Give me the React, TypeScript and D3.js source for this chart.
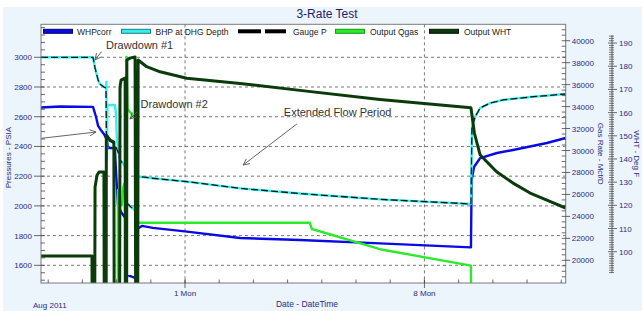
import React from "react";
import * as d3 from "d3";

// time axis in days from Mon 1 Aug 2011 00:00
const dayDomain: [number, number] = [-4.21, 11.13];
const psiDomain: [number, number] = [1481, 3222];
const gasDomain: [number, number] = [17933, 41494];
const whtDomain: [number, number] = [86.5, 198.1];

const psiTicks = [1600, 1800, 2000, 2200, 2400, 2600, 2800, 3000];
const gasTicks = [20000, 22000, 24000, 26000, 28000, 30000, 32000, 34000, 36000, 38000, 40000];
const whtTicks = [100, 110, 120, 130, 140, 150, 160, 170, 180, 190];
const dateTicks = [0, 7];
const dateLabels = ["1 Mon", "8 Mon"];

type Pt = [number, number];

const whpcorr: Pt[] = [
  [-4.21, 2662], [-3.65, 2669], [-2.69, 2666], [-2.6, 2598], [-2.54, 2538], [-2.46, 2511],
  [-2.37, 2484], [-2.28, 2443], [-2.25, 2390], [-2.05, 2390], [-2.02, 2242], [-1.96, 2007],
  [-1.87, 1959], [-1.75, 1919], [-1.71, 1905], [-1.7, 1535], [-1.46, 1515], [-1.42, 1515],
  [-1.4, 1845], [-1.26, 1865], [-0.94, 1852], [0.06, 1827], [1.61, 1784], [3.36, 1770],
  [5.7, 1748], [8.36, 1721], [8.38, 2174], [8.45, 2262], [8.63, 2322], [9.12, 2356],
  [9.59, 2376], [10.58, 2423], [11.13, 2457],
];

const bhp: Pt[] = [
  [-4.21, 3000], [-2.69, 3000], [-2.63, 2928], [-2.54, 2847], [-2.49, 2820], [-2.37, 2800],
  [-2.31, 2793], [-2.3, 2834], [-2.28, 2309], [-2.27, 2679], [-2.05, 2679], [-2.02, 2625],
  [-1.99, 2443], [-1.9, 2309], [-1.75, 2268], [-1.71, 2268], [-1.7, 2019], [-1.58, 1992],
  [-1.43, 1966], [-1.41, 2186], [-1.32, 2197], [-0.94, 2186], [0.06, 2163], [1.61, 2118],
  [3.36, 2083], [5.7, 2044], [8.36, 2013], [8.39, 2531], [8.48, 2598], [8.63, 2659],
  [8.92, 2692], [9.3, 2713], [10.09, 2733], [11.13, 2753],
];

const gaugeP: Pt[] = [
  [-4.21, 3000], [-2.69, 3000], [-2.63, 2928], [-2.54, 2847], [-2.49, 2820], [-2.37, 2800],
  [-2.31, 2793], [-2.3, 2477], [-2.25, 2443], [-2.11, 2423], [-2.02, 2396], [-1.96, 2363],
  [-1.9, 2309], [-1.78, 2275], [-1.71, 2268], [-1.7, 2019], [-1.58, 1992], [-1.43, 1966],
  [-1.41, 2186], [-1.32, 2197], [-0.94, 2186], [0.06, 2163], [1.61, 2118], [3.36, 2083],
  [5.7, 2044], [8.36, 2013], [8.39, 2531], [8.48, 2598], [8.63, 2659], [8.92, 2692],
  [9.3, 2713], [10.09, 2733], [11.13, 2753],
];

const qgas: Pt[] = [
  [-4.21, 0], [-1.97, 0], [-1.96, 26400], [-1.93, 25670], [-1.87, 25030], [-1.84, 25030],
  [-1.81, 26580], [-1.78, 26950], [-1.73, 27040], [-1.71, 38520], [-1.68, 33780],
  [-1.61, 33510], [-1.49, 33050], [-1.45, 33050], [-1.4, 23420], [3.65, 23420],
  [3.71, 22850], [5.7, 21010], [8.36, 19510], [8.38, 0], [11.13, 0],
];

const wht: Pt[] = [
  [-4.21, 98.2], [-2.72, 98.2], [-2.69, 0], [-2.65, 0], [-2.63, 127.9], [-2.57, 133.1],
  [-2.51, 134.4], [-2.37, 134.4], [-2.35, 0], [-2.31, 0], [-2.3, 150.3], [-2.19, 148.2],
  [-2.08, 147.3], [-2.06, 0], [-1.92, 0], [-1.9, 171.0], [-1.87, 174.0], [-1.75, 174.9],
  [-1.74, 0], [-1.71, 0], [-1.7, 182.7], [-1.61, 183.5], [-1.46, 184.0], [-1.43, 0],
  [-1.39, 0], [-1.37, 182.7], [-1.12, 179.8], [-0.73, 177.6], [0.05, 174.8], [1.61, 172.6],
  [3.36, 169.6], [5.7, 165.7], [8.36, 162.1], [8.46, 151.2], [8.63, 141.7], [9.11, 134.5],
  [9.59, 129.6], [10.09, 125.3], [10.58, 122.3], [11.13, 118.8],
];

const notes = [
  { text: "Drawdown #1", day: -2.31, psi: 3056 },
  { text: "Drawdown #2", day: -1.3, psi: 2659 },
  { text: "Extended Flow Period", day: 2.89, psi: 2605 },
];
const arrows: [Pt, Pt][] = [
  [[-2.44, 3038], [-2.63, 2982]],
  [[-1.4, 2632], [-1.61, 2585]],
  [[-4.19, 2455], [-2.6, 2497]],
  [[3.27, 2551], [1.7, 2275]],
];

const plot = { left: 41, right: 565.7, top: 24.3, bottom: 283 };
const navy = "#2b2b86";
const font = "Liberation Sans, Arial, sans-serif";

export default function App() {
  const x = d3.scaleLinear().domain(dayDomain).range([plot.left, plot.right]);
  const yP = d3.scaleLinear().domain(psiDomain).range([plot.bottom, plot.top]);
  const yQ = d3.scaleLinear().domain(gasDomain).range([plot.bottom, plot.top]);
  const yT = d3.scaleLinear().domain(whtDomain).range([plot.bottom, plot.top]);

  const lineP = d3.line<Pt>().x((d) => x(d[0])).y((d) => yP(d[1]));
  const lineQ = d3.line<Pt>().x((d) => x(d[0])).y((d) => yQ(d[1]));
  const lineT = d3.line<Pt>().x((d) => x(d[0])).y((d) => yT(d[1]));

  const psiMinor = d3.range(1500, 3201, 50).filter((v) => v > psiDomain[0] && v < psiDomain[1]);
  const gasMinor = d3.range(18000, 41001, 500).filter((v) => v % 2000 !== 0);
  const whtMinor = d3.range(91, 194).filter((v) => v % 10 !== 0);
  const dayMinor = d3.range(-4, 12);
  const whtX = 612;

  const legend = [
    { label: "WHPcorr", x0: 43, tx: 77, fill: "#0a0ae6", stroke: "#00006e" },
    { label: "BHP at DHG Depth", x0: 121, tx: 155.5, fill: "#33f0f0", stroke: "#1d7f84" },
    { label: "Gauge P", x0: 238, tx: 293, fill: "#000", stroke: "#000", dashed: true },
    { label: "Output Qgas", x0: 335, tx: 370, fill: "#2bea2b", stroke: "#129a12" },
    { label: "Output WHT", x0: 429, tx: 464, fill: "#0b3b0b", stroke: "#021602" },
  ];

  const arrowHead = (a: Pt, b: Pt) => {
    const x1 = x(a[0]), y1 = yP(a[1]), x2 = x(b[0]), y2 = yP(b[1]);
    const ang = Math.atan2(y2 - y1, x2 - x1);
    const L = 7, s = 0.45;
    const p1 = [x2 - L * Math.cos(ang - s), y2 - L * Math.sin(ang - s)];
    const p2 = [x2 - L * Math.cos(ang + s), y2 - L * Math.sin(ang + s)];
    return { x1, y1, x2, y2, head: `M${p1[0]},${p1[1]}L${x2},${y2}L${p2[0]},${p2[1]}` };
  };

  return (
    <svg width={642} height={311} style={{ position: "absolute", left: 0, top: 0 }} fontFamily={font}>
      <rect x={0} y={0} width={642} height={311} fill="#fff" />
      <rect x={3} y={7} width={660} height={320} fill="#ecf4fc" />
      <text x={327} y={18} textAnchor="middle" fontSize={12} fill="#1e1e6e">3-Rate Test</text>

      <rect x={plot.left} y={plot.top} width={plot.right - plot.left} height={plot.bottom - plot.top} fill="#fff" />
      <defs>
        <clipPath id="plotclip">
          <rect x={plot.left} y={plot.top} width={plot.right - plot.left} height={plot.bottom - plot.top} />
        </clipPath>
      </defs>

      {/* grid */}
      {psiTicks.map((v) => (
        <line key={"g" + v} x1={plot.left} x2={plot.right} y1={yP(v)} y2={yP(v)} stroke="#555" strokeWidth={0.8} strokeDasharray="3,3" />
      ))}
      {dateTicks.map((d) => (
        <line key={"gx" + d} x1={x(d)} x2={x(d)} y1={plot.top} y2={plot.bottom} stroke="#555" strokeWidth={0.8} strokeDasharray="3,3" />
      ))}

      {/* series */}
      <g clipPath="url(#plotclip)" fill="none" strokeLinejoin="round">
        <path d={lineP(whpcorr) || ""} stroke="#0a0ae6" strokeWidth={2.4} />
        <path d={lineP(bhp) || ""} stroke="#33f0f0" strokeWidth={2.4} />
        <path d={lineP(gaugeP) || ""} stroke="#111" strokeWidth={1.3} strokeDasharray="7,3" />
        <path d={lineQ(qgas) || ""} stroke="#2bea2b" strokeWidth={2.4} />
        <path d={lineT(wht) || ""} stroke="#0b3b0b" strokeWidth={3} />
      </g>

      {/* annotations */}
      {notes.map((n) => (
        <text key={n.text} x={x(n.day)} y={yP(n.psi)} fontSize={11} fill="#333">{n.text}</text>
      ))}
      {arrows.map((a, i) => {
        const h = arrowHead(a[0], a[1]);
        return (
          <g key={"a" + i} stroke="#555" strokeWidth={0.9} fill="none">
            <line x1={h.x1} y1={h.y1} x2={h.x2} y2={h.y2} />
            <path d={h.head} />
          </g>
        );
      })}

      {/* legend */}
      {legend.map((l) => (
        <g key={l.label}>
          {l.dashed ? (
            <>
              <rect x={l.x0} y={29.3} width={23} height={4} fill="#000" />
              <rect x={l.x0 + 27} y={29.3} width={21} height={4} fill="#000" />
            </>
          ) : (
            <rect x={l.x0 + 0.5} y={29.3} width={29} height={4} fill={l.fill} stroke={l.stroke} strokeWidth={1} />
          )}
          <text x={l.tx} y={34.5} fontSize={8.5} fill="#222">{l.label}</text>
        </g>
      ))}

      <rect x={plot.left} y={plot.top} width={plot.right - plot.left} height={plot.bottom - plot.top} fill="none" stroke="#7a7a7a" strokeWidth={1} />

      {/* left axis */}
      {psiMinor.map((v) => (
        <line key={"pm" + v} x1={plot.left} x2={plot.left + 4} y1={yP(v)} y2={yP(v)} stroke="#444" strokeWidth={0.8} />
      ))}
      {psiTicks.map((v) => (
        <g key={"pt" + v}>
          <line x1={plot.left - 7} x2={plot.left} y1={yP(v)} y2={yP(v)} stroke="#444" strokeWidth={0.8} />
          <text x={plot.left - 9} y={yP(v) + 3} fontSize={8} textAnchor="end" fill={navy}>{v}</text>
        </g>
      ))}
      <text transform={`translate(11,${(plot.top + plot.bottom) / 2 + 4}) rotate(-90)`} fontSize={8} textAnchor="middle" fill={navy}>Pressures - PSIA</text>

      {/* bottom axis */}
      {dayMinor.map((d) => (
        <line key={"dm" + d} x1={x(d)} x2={x(d)} y1={plot.bottom - 3.5} y2={plot.bottom} stroke="#444" strokeWidth={0.8} />
      ))}
      {dateTicks.map((d, i) => (
        <g key={"dt" + d}>
          <line x1={x(d)} x2={x(d)} y1={plot.bottom - 3.5} y2={plot.bottom + 5} stroke="#444" strokeWidth={0.8} />
          <text x={x(d)} y={296} fontSize={8} textAnchor="middle" fill={navy}>{dateLabels[i]}</text>
        </g>
      ))}
      <text x={33} y={308} fontSize={8} fill={navy}>Aug 2011</text>
      <text x={307} y={307} fontSize={8.5} textAnchor="middle" fill={navy}>Date - DateTime</text>

      {/* gas rate axis */}
      {gasMinor.map((v) => (
        <line key={"qm" + v} x1={plot.right - 4} x2={plot.right} y1={yQ(v)} y2={yQ(v)} stroke="#444" strokeWidth={0.8} />
      ))}
      {gasTicks.map((v) => (
        <g key={"qt" + v}>
          <line x1={plot.right - 4} x2={plot.right + 4.5} y1={yQ(v)} y2={yQ(v)} stroke="#444" strokeWidth={0.8} />
          <text x={plot.right + 6} y={yQ(v) + 3} fontSize={8} fill={navy}>{v}</text>
        </g>
      ))}
      <text transform={`translate(598,${(plot.top + plot.bottom) / 2}) rotate(90)`} fontSize={8} textAnchor="middle" fill={navy}>Gas Rate - Mcf/D</text>

      {/* WHT axis */}
      <line x1={whtX} x2={whtX} y1={yT(90.8)} y2={yT(193.4)} stroke="#444" strokeWidth={0.8} />
      {whtMinor.map((v) => (
        <line key={"tm" + v} x1={whtX - 3} x2={whtX + 2} y1={yT(v)} y2={yT(v)} stroke="#444" strokeWidth={0.7} />
      ))}
      {whtTicks.map((v) => (
        <g key={"tt" + v}>
          <line x1={whtX - 4} x2={whtX + 5} y1={yT(v)} y2={yT(v)} stroke="#444" strokeWidth={0.8} />
          <text x={whtX + 7} y={yT(v) + 3} fontSize={8} fill={navy}>{v}</text>
        </g>
      ))}
      <text transform={`translate(634,${(plot.top + plot.bottom) / 2}) rotate(90)`} fontSize={8} textAnchor="middle" fill={navy}>WHT - Deg F</text>
    </svg>
  );
}
